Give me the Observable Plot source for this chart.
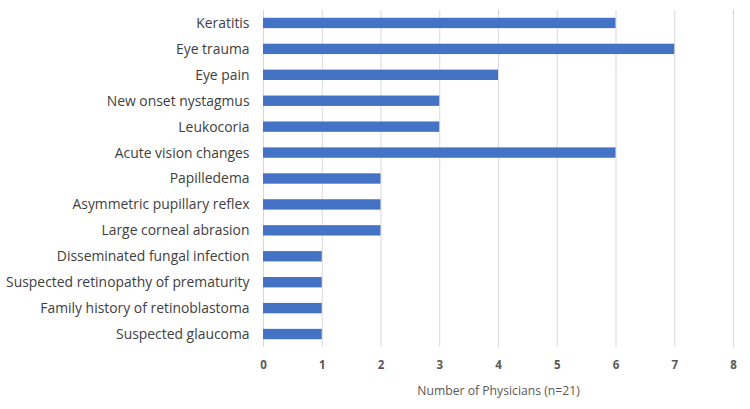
<!DOCTYPE html>
<html>
<head>
<meta charset="utf-8">
<script src="https://cdn.jsdelivr.net/npm/d3@7"></script>
<script src="https://cdn.jsdelivr.net/npm/@observablehq/plot@0.6"></script>
<style>
  html, body { margin: 0; padding: 0; background: #fff; }
</style>
</head>
<body>
<div id="chart"></div>
<script>
const categories = [
  "Keratitis",
  "Eye trauma",
  "Eye pain",
  "New onset nystagmus",
  "Leukocoria",
  "Acute vision changes",
  "Papilledema",
  "Asymmetric pupillary reflex",
  "Large corneal abrasion",
  "Disseminated fungal infection",
  "Suspected retinopathy of prematurity",
  "Family history of retinoblastoma",
  "Suspected glaucoma"
];
const values = [6, 7, 4, 3, 3, 6, 2, 2, 2, 1, 1, 1, 1];
const xTicks = [0, 1, 2, 3, 4, 5, 6, 7, 8];
const xLabel = "Number of Physicians (n=21)";

const data = categories.map((c, i) => ({category: c, value: values[i]}));

const chart = Plot.plot({
  width: 750,
  height: 409,
  marginLeft: 263,
  marginRight: 17,
  marginTop: 10,
  marginBottom: 62,
  style: {fontFamily: "'Open Sans', sans-serif", fontSize: "13.9px", background: "#fff"},
  x: {domain: [0, 8]},
  y: {domain: categories, paddingInner: 0.6, paddingOuter: 0.3, round: false},
  marks: [
    Plot.ruleX(xTicks, {stroke: "#d9d9d9", strokeWidth: 1}),
    Plot.barX(data, {x: "value", y: "category", fill: "#4472C4"}),
    Plot.axisY({tickSize: 0, tickPadding: 14, fontSize: 13.9, fill: "#404040", label: null}),
    Plot.axisX({ticks: xTicks, tickSize: 0, tickPadding: 13, fontSize: 11.5, fontWeight: "bold", fill: "#595959", label: null}),
    Plot.text([xLabel], {frameAnchor: "bottom", dy: 44, lineAnchor: "middle", fontSize: 12.2, fill: "#595959"})
  ]
});
document.getElementById("chart").appendChild(chart);
</script>
</body>
</html>
